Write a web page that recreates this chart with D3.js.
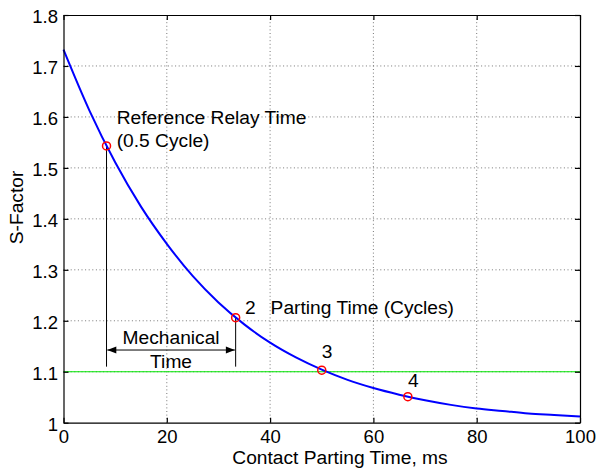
<!DOCTYPE html>
<html>
<head>
<meta charset="utf-8">
<script src="https://cdn.jsdelivr.net/npm/d3@7/dist/d3.min.js"></script>
<style>
  html, body { margin: 0; padding: 0; background: #fff; }
  svg text { font-family: "Liberation Sans", Arial, Helvetica, sans-serif; fill: #000; }
</style>
</head>
<body>
<script>
// S-factor curve (X/R = 17, 60 Hz): contact parting time in ms vs. S-factor
const partingTimeMs = [0, 5, 10, 15, 20, 25, 30, 35, 40, 45, 50, 55, 60, 65, 70, 75, 80, 85, 90, 95, 100];
const sFactor = [1.732, 1.613, 1.511, 1.424, 1.351, 1.288, 1.236, 1.193, 1.157, 1.128, 1.104,
                 1.084, 1.068, 1.055, 1.044, 1.035, 1.028, 1.023, 1.018, 1.015, 1.012];

// Marked points: 0.5, 2, 3 and 4 cycles
const markerCycles = [0.5, 2, 3, 4];
const markerTimeMs = [8.33, 33.33, 50, 66.67];
const markerS = [1.543, 1.206, 1.103, 1.051];

// Reference S-factor level
const sLimit = 1.1;

const xTicks = [0, 20, 40, 60, 80, 100];
const yTicks = [1, 1.1, 1.2, 1.3, 1.4, 1.5, 1.6, 1.7, 1.8];
const yTickLabels = ["1", "1.1", "1.2", "1.3", "1.4", "1.5", "1.6", "1.7", "1.8"];

const W = 598, H = 468;
const FS_TICK = 18.5;
const FS = 19.2;
const L = 63.5, R = 580, T = 15, B = 422.7;

const svg = d3.select("body").append("svg")
  .attr("width", W).attr("height", H)
  .style("display", "block");

svg.append("rect").attr("width", W).attr("height", H).attr("fill", "#fff");

const x = d3.scaleLinear().domain([0, 100]).range([L, R]);
const y = d3.scaleLinear().domain([1, 1.8]).range([B, T]);

// dotted grid
const grid = svg.append("g").attr("stroke", "#555").attr("stroke-width", 0.8)
  .attr("stroke-dasharray", "1,2.6");
grid.selectAll(".gx").data(xTicks.slice(1, -1)).join("line")
  .attr("x1", d => x(d)).attr("x2", d => x(d)).attr("y1", T).attr("y2", B);
grid.selectAll(".gy").data(yTicks.slice(1, -1)).join("line")
  .attr("x1", L).attr("x2", R).attr("y1", d => y(d)).attr("y2", d => y(d));

// S = 1.1 reference line
svg.append("line")
  .attr("x1", x(0)).attr("x2", x(100)).attr("y1", y(sLimit)).attr("y2", y(sLimit))
  .attr("stroke", "#00e600").attr("stroke-width", 1.2);

// mechanical time dimension
const dimBottom = 1.11, dimArrow = 1.1426;
const ann = svg.append("g").attr("stroke", "#000").attr("stroke-width", 1);
[0, 1].forEach(i => {
  ann.append("line")
    .attr("x1", x(markerTimeMs[i])).attr("x2", x(markerTimeMs[i]))
    .attr("y1", y(markerS[i])).attr("y2", y(dimBottom));
});
const ax1 = x(markerTimeMs[0]) + 0.8, ax2 = x(markerTimeMs[1]) - 0.8, ay = y(dimArrow);
ann.append("line").attr("x1", ax1).attr("x2", ax2).attr("y1", ay).attr("y2", ay);
const aL = 9, aW = 3.5;
svg.append("path")
  .attr("d", `M${ax1},${ay} L${ax1 + aL},${ay - aW} L${ax1 + aL},${ay + aW} Z`)
  .attr("fill", "#000");
svg.append("path")
  .attr("d", `M${ax2},${ay} L${ax2 - aL},${ay - aW} L${ax2 - aL},${ay + aW} Z`)
  .attr("fill", "#000");

// S-factor curve
const line = d3.line()
  .x((d, i) => x(partingTimeMs[i]))
  .y(d => y(d))
  .curve(d3.curveMonotoneX);
svg.append("path")
  .datum(sFactor)
  .attr("d", line)
  .attr("fill", "none")
  .attr("stroke", "#0000ff")
  .attr("stroke-width", 2);

// cycle markers
svg.selectAll(".mk").data(markerCycles).join("circle")
  .attr("cx", (d, i) => x(markerTimeMs[i]))
  .attr("cy", (d, i) => y(markerS[i]))
  .attr("r", 4)
  .attr("fill", "none")
  .attr("stroke", "#ff0000")
  .attr("stroke-width", 1.5);

// text annotations
const txt = (s, tx, sy, anchor) => svg.append("text")
  .attr("x", x(tx)).attr("y", y(sy))
  .attr("font-size", FS)
  .attr("text-anchor", anchor || "start")
  .text(s);

txt("Reference Relay Time", 10.3, 1.5861);
txt("(0.5 Cycle)", 10.3, 1.5416);
txt("Mechanical", (markerTimeMs[0] + markerTimeMs[1]) / 2, 1.1544, "middle");
txt("Time", (markerTimeMs[0] + markerTimeMs[1]) / 2, 1.1079, "middle");
txt(String(markerCycles[1]), 35.14, 1.2133);
txt("Parting Time (Cycles)", 40.1, 1.2133);
txt(String(markerCycles[2]), 50.0, 1.1263);
txt(String(markerCycles[3]), 66.7, 1.0706);

// axes with inward ticks
const fontAxis = g => g.selectAll("text")
  .attr("font-size", FS_TICK)
  .attr("font-family", "Liberation Sans, Arial, Helvetica, sans-serif")
  .attr("fill", "#000");

const xAxis = svg.append("g").attr("transform", `translate(0,${B})`)
  .call(d3.axisBottom(x).tickValues(xTicks).tickFormat(d3.format("d"))
    .tickSizeInner(-5).tickSizeOuter(0).tickPadding(7.3));
xAxis.call(fontAxis);

const yAxis = svg.append("g").attr("transform", `translate(${L},0)`)
  .call(d3.axisLeft(y).tickValues(yTicks).tickFormat((d, i) => yTickLabels[i])
    .tickSizeInner(-5).tickSizeOuter(0).tickPadding(5.5));
yAxis.call(fontAxis);
yAxis.selectAll("text").attr("dy", "0.41em");

svg.append("g").attr("transform", `translate(0,${T})`)
  .call(d3.axisTop(x).tickValues(xTicks).tickFormat("").tickSizeInner(-5).tickSizeOuter(0));
svg.append("g").attr("transform", `translate(${R},0)`)
  .call(d3.axisRight(y).tickValues(yTicks).tickFormat("").tickSizeInner(-5).tickSizeOuter(0));

svg.selectAll(".domain, .tick line").attr("stroke", "#000").attr("stroke-width", 1.2);

// axis titles
svg.append("text")
  .attr("x", 340).attr("y", 464.4)
  .attr("text-anchor", "middle").attr("font-size", FS)
  .text("Contact Parting Time, ms");

svg.append("text")
  .attr("transform", "translate(23,207.5) rotate(-90)")
  .attr("text-anchor", "middle").attr("font-size", FS)
  .text("S-Factor");
</script>
</body>
</html>
